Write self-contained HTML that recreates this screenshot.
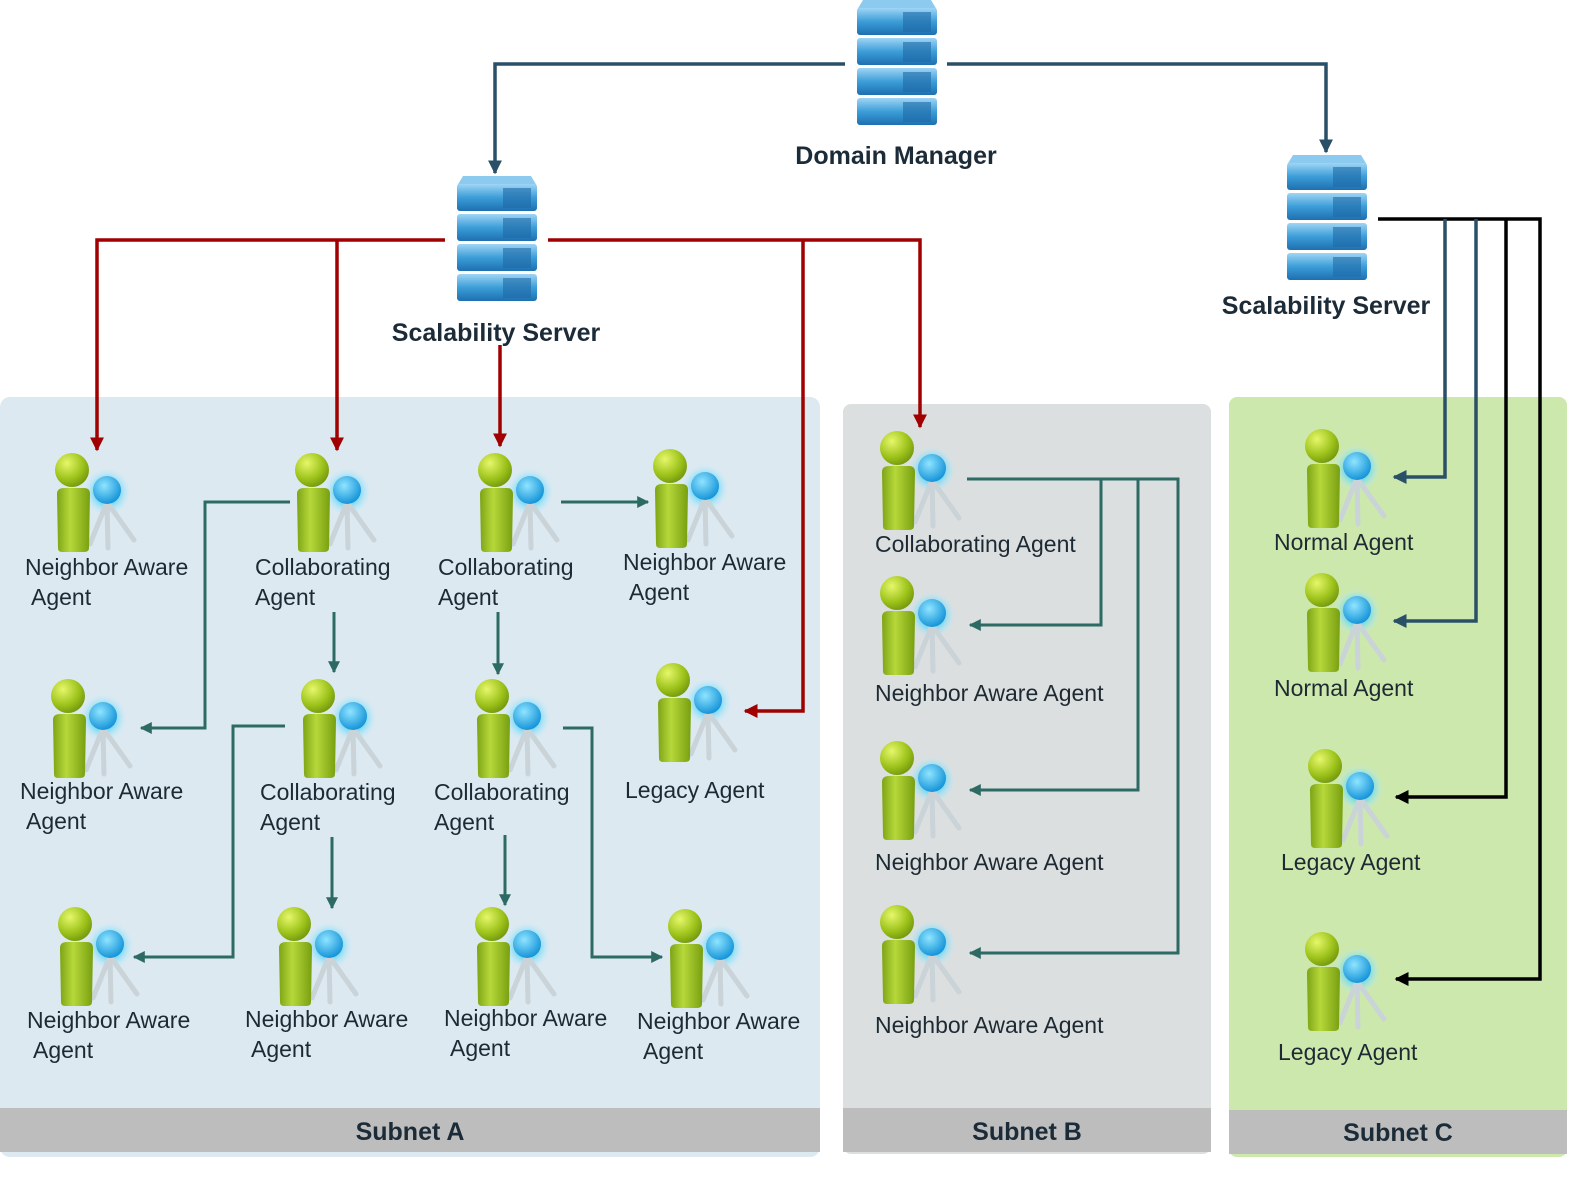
<!DOCTYPE html>
<html><head><meta charset="utf-8"><style>
html,body{margin:0;padding:0;background:#fff;}
svg{display:block;}
text{font-family:"Liberation Sans",sans-serif;font-size:23px;fill:#1e2a33;}
.b{font-weight:bold;font-size:25px;fill:#1c2b38;}
</style></head><body>
<svg width="1588" height="1182" viewBox="0 0 1588 1182" xmlns="http://www.w3.org/2000/svg">
<defs>
<radialGradient id="g1" cx="0.35" cy="0.3" r="0.8"><stop offset="0" stop-color="#e6f76a"/><stop offset="0.6" stop-color="#9cc21a"/><stop offset="1" stop-color="#6b8f0c"/></radialGradient>
<linearGradient id="gb" x1="0" x2="1"><stop offset="0" stop-color="#7ea416"/><stop offset="0.4" stop-color="#b6d83a"/><stop offset="1" stop-color="#789f10"/></linearGradient>
<radialGradient id="gl"><stop offset="0.5" stop-color="#5fd4f5" stop-opacity="0.8"/><stop offset="1" stop-color="#bdf0ff" stop-opacity="0"/></radialGradient>
<radialGradient id="bl" cx="0.4" cy="0.35" r="0.7"><stop offset="0" stop-color="#8fe4ff"/><stop offset="1" stop-color="#0e8fd6"/></radialGradient>
<linearGradient id="sv" x1="0" y1="0" x2="0" y2="1"><stop offset="0" stop-color="#9fd5f5"/><stop offset="0.5" stop-color="#3c9ed8"/><stop offset="1" stop-color="#1e6fb0"/></linearGradient>
<g id="agent">
<circle cx="55" cy="40" r="24" fill="url(#gl)"/>
<g stroke="#c9d3d8" stroke-width="5" stroke-linecap="round"><line x1="55" y1="50" x2="38" y2="92"/><line x1="55" y1="50" x2="56" y2="96"/><line x1="55" y1="50" x2="82" y2="88"/></g>
<circle cx="55" cy="38" r="14" fill="url(#bl)"/>
<path d="M5 42 Q5 36 12 36 L32 36 Q38 36 38 42 L37 96 Q37 100 32 100 L10 100 Q6 100 6 96 Z" fill="url(#gb)"/>
<circle cx="20" cy="18" r="17" fill="url(#g1)"/>
</g>
<g id="srv">
<path d="M6 0 L74 0 L80 10 L0 10 Z" fill="#8ccbef"/>
<rect x="0" y="8" width="80" height="27" rx="3" fill="url(#sv)"/>
<rect x="0" y="38" width="80" height="27" rx="3" fill="url(#sv)"/>
<rect x="0" y="68" width="80" height="27" rx="3" fill="url(#sv)"/>
<rect x="0" y="98" width="80" height="27" rx="3" fill="url(#sv)"/>
<g fill="#1f6aa8" opacity="0.6"><rect x="46" y="12" width="28" height="20"/><rect x="46" y="42" width="28" height="20"/><rect x="46" y="72" width="28" height="20"/><rect x="46" y="102" width="28" height="20"/></g>
</g>
<marker id="ar" viewBox="0 0 10 10" refX="9" refY="5" markerWidth="4" markerHeight="4" orient="auto"><path d="M0 0L10 5L0 10Z" fill="#a00000"/></marker>
<marker id="at" viewBox="0 0 10 10" refX="9" refY="5" markerWidth="4" markerHeight="4" orient="auto"><path d="M0 0L10 5L0 10Z" fill="#2d6a64"/></marker>
<marker id="ab" viewBox="0 0 10 10" refX="9" refY="5" markerWidth="4" markerHeight="4" orient="auto"><path d="M0 0L10 5L0 10Z" fill="#2a5068"/></marker>
<marker id="ak" viewBox="0 0 10 10" refX="9" refY="5" markerWidth="4" markerHeight="4" orient="auto"><path d="M0 0L10 5L0 10Z" fill="#000"/></marker>
</defs>

<rect x="0" y="397" width="820" height="760" rx="10" fill="#dce9f1"/>
<rect x="0" y="1108" width="820" height="44" fill="#bdbdbd"/>
<rect x="843" y="404" width="368" height="750" rx="8" fill="#dcdfdf"/>
<rect x="843" y="1108" width="368" height="44" fill="#bdbdbd"/>
<rect x="1229" y="397" width="338" height="760" rx="8" fill="#cde8ac"/>
<rect x="1229" y="1110" width="338" height="44" fill="#bdbdbd"/>
<text class="b" x="410" y="1140" text-anchor="middle">Subnet A</text>
<text class="b" x="1027" y="1140" text-anchor="middle">Subnet B</text>
<text class="b" x="1398" y="1141" text-anchor="middle">Subnet C</text>

<use href="#srv" x="857" y="0"/>
<use href="#srv" x="457" y="176"/>
<use href="#srv" x="1287" y="155"/>
<text class="b" x="896" y="164" text-anchor="middle">Domain Manager</text>
<text class="b" x="496" y="341" text-anchor="middle">Scalability Server</text>
<text class="b" x="1326" y="314" text-anchor="middle">Scalability Server</text>

<g fill="none" stroke-width="3.5">
<path d="M845 64 H495 V173" stroke="#2a5068" marker-end="url(#ab)"/>
<path d="M947 64 H1326 V152" stroke="#2a5068" marker-end="url(#ab)"/>
<g stroke="#a00000">
<path d="M445 240 H97 V450" marker-end="url(#ar)"/>
<path d="M337 240 V450" marker-end="url(#ar)"/>
<path d="M500 345 V446" marker-end="url(#ar)"/>
<path d="M548 240 H920 V427" marker-end="url(#ar)"/>
<path d="M803 240 V711 H745" marker-end="url(#ar)"/>
</g>
<g stroke="#2d6a64" stroke-width="3">
<path d="M290 502 H205 V728 H141" marker-end="url(#at)"/>
<path d="M334 612 V672" marker-end="url(#at)"/>
<path d="M498 612 V674" marker-end="url(#at)"/>
<path d="M561 502 H648" marker-end="url(#at)"/>
<path d="M285 726 H233 V957 H134" marker-end="url(#at)"/>
<path d="M332 837 V908" marker-end="url(#at)"/>
<path d="M505 835 V905" marker-end="url(#at)"/>
<path d="M563 728 H592 V957 H662" marker-end="url(#at)"/>
<path d="M967 479 H1178 V953 H970" marker-end="url(#at)"/>
<path d="M1101 479 V625 H970" marker-end="url(#at)"/>
<path d="M1138 479 V790 H970" marker-end="url(#at)"/>
</g>
<path d="M1378 219 H1540 V979 H1396" stroke="#000" marker-end="url(#ak)"/>
<path d="M1506 219 V797 H1396" stroke="#000" marker-end="url(#ak)"/>
<path d="M1445 219 V477 H1394" stroke="#2a5068" marker-end="url(#ab)"/>
<path d="M1476 219 V621 H1394" stroke="#2a5068" marker-end="url(#ab)"/>
</g>

<use href="#agent" x="52" y="452"/><use href="#agent" x="292" y="452"/><use href="#agent" x="475" y="452"/><use href="#agent" x="650" y="448"/>
<use href="#agent" x="48" y="678"/><use href="#agent" x="298" y="678"/><use href="#agent" x="472" y="678"/><use href="#agent" x="653" y="662"/>
<use href="#agent" x="55" y="906"/><use href="#agent" x="274" y="906"/><use href="#agent" x="472" y="906"/><use href="#agent" x="665" y="908"/>
<use href="#agent" x="877" y="430"/><use href="#agent" x="877" y="575"/><use href="#agent" x="877" y="740"/><use href="#agent" x="877" y="904"/>
<use href="#agent" x="1302" y="428"/><use href="#agent" x="1302" y="572"/><use href="#agent" x="1305" y="748"/><use href="#agent" x="1302" y="931"/>

<text x="25" y="575">Neighbor Aware</text><text x="31" y="605">Agent</text>
<text x="255" y="575">Collaborating</text><text x="255" y="605">Agent</text>
<text x="438" y="575">Collaborating</text><text x="438" y="605">Agent</text>
<text x="623" y="570">Neighbor Aware</text><text x="629" y="600">Agent</text>
<text x="20" y="799">Neighbor Aware</text><text x="26" y="829">Agent</text>
<text x="260" y="800">Collaborating</text><text x="260" y="830">Agent</text>
<text x="434" y="800">Collaborating</text><text x="434" y="830">Agent</text>
<text x="625" y="798">Legacy Agent</text>
<text x="27" y="1028">Neighbor Aware</text><text x="33" y="1058">Agent</text>
<text x="245" y="1027">Neighbor Aware</text><text x="251" y="1057">Agent</text>
<text x="444" y="1026">Neighbor Aware</text><text x="450" y="1056">Agent</text>
<text x="637" y="1029">Neighbor Aware</text><text x="643" y="1059">Agent</text>
<text x="875" y="552">Collaborating Agent</text>
<text x="875" y="701">Neighbor Aware  Agent</text>
<text x="875" y="870">Neighbor Aware  Agent</text>
<text x="875" y="1033">Neighbor Aware  Agent</text>
<text x="1274" y="550">Normal Agent</text>
<text x="1274" y="696">Normal Agent</text>
<text x="1281" y="870">Legacy Agent</text>
<text x="1278" y="1060">Legacy Agent</text>
</svg>
</body></html>
